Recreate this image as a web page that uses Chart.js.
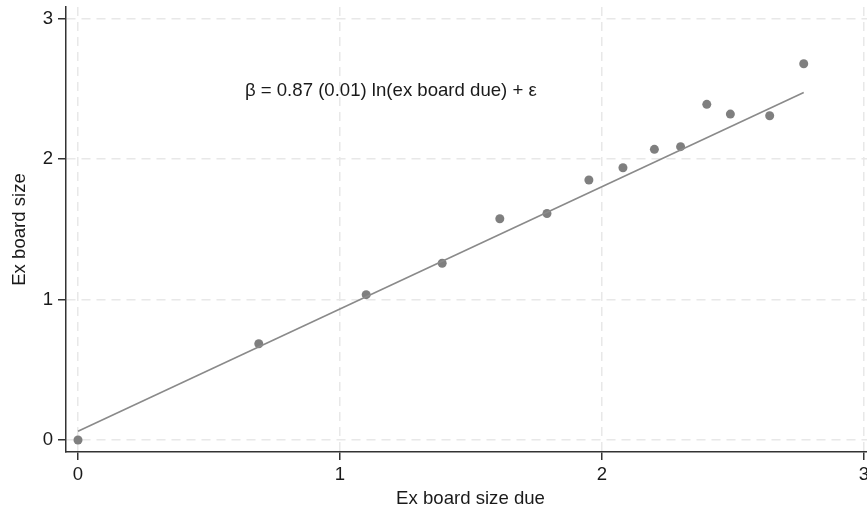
<!DOCTYPE html>
<html>
<head>
<meta charset="utf-8">
<script src="https://cdn.jsdelivr.net/npm/chart.js@4"></script>
<style>
	html, body { margin: 0; padding: 0; background: #fff; overflow: hidden; }
	#cadre { position: relative; width: 890px; height: 512px; }
</style>
</head>
<body>
<div id="cadre"><canvas id="graphique"></canvas></div>
<script>
// ln(ex board size due) and ln(ex board size), one point per group
const tailleDue = [0, 0.69, 1.10, 1.39, 1.61, 1.79, 1.95, 2.08, 2.20, 2.30, 2.40, 2.49, 2.64, 2.77];
const tailleBoard = [0, 0.685, 1.035, 1.258, 1.575, 1.612, 1.851, 1.938, 2.069, 2.088, 2.389, 2.320, 2.308, 2.678];

// fitted line
const beta = 0.87;
const constante = 0.063;

const ticksX = [0, 1, 2, 3];
const ticksY = [0, 1, 2, 3];

const texteBeta = "β = 0.87 (0.01) ln(ex board due) + ε";

const points = tailleDue.map((x, i) => ({x: x, y: tailleBoard[i]}));
const xMin = Math.min(...tailleDue);
const xMax = Math.max(...tailleDue);
const droite = [
	{x: xMin, y: constante + beta * xMin},
	{x: xMax, y: constante + beta * xMax},
];

const police = "'Liberation Sans', Arial, sans-serif";
const taille = 18.6;

// writes the regression equation inside the plot
const pluginTexte = {
	id: "texteBeta",
	afterDatasetsDraw(chart) {
		const ctx = chart.ctx;
		const px = chart.scales.x.getPixelForValue(0.637);
		const py = chart.scales.y.getPixelForValue(2.484);
		ctx.save();
		ctx.font = taille + "px " + police;
		ctx.fillStyle = "#1a1a1a";
		ctx.textAlign = "left";
		ctx.textBaseline = "middle";
		ctx.fillText(texteBeta, px, py);
		ctx.restore();
	}
};

const grille = {
	color: "#e8e8e8",
	lineWidth: 1.5,
	tickColor: "#333",
	tickLength: 8,
	tickWidth: 1.5,
};

const config = {
	type: "scatter",
	data: {
		datasets: [
			{
				type: "line",
				data: droite,
				borderColor: "#8a8a8a",
				borderWidth: 1.6,
				pointRadius: 0,
				fill: false,
			},
			{
				data: points,
				backgroundColor: "#7f7f7f",
				borderWidth: 0,
				pointRadius: 4.5,
			},
		],
	},
	options: {
		responsive: true,
		maintainAspectRatio: false,
		animation: false,
		layout: {padding: {top: 7, right: 15, left: 0, bottom: 0}},
		plugins: {legend: {display: false}, tooltip: {enabled: false}},
		scales: {
			x: {
				type: "linear",
				min: -0.0458,
				max: 3.042,
				afterBuildTicks: scale => { scale.ticks = ticksX.map(v => ({value: v})); },
				afterFit: scale => {
					scale.height = 60;
					scale.paddingLeft = 0;
					scale.paddingRight = 0;
				},
				grid: grille,
				border: {display: true, color: "#333", width: 1.5, dash: [9, 6]},
				ticks: {color: "#1a1a1a", padding: 4, maxRotation: 0, font: {size: taille, family: police}},
				title: {display: true, text: "Ex board size due", color: "#1a1a1a", padding: {top: 0, bottom: 2}, font: {size: taille, family: police}},
			},
			y: {
				type: "linear",
				min: -0.085,
				max: 3.082,
				afterBuildTicks: scale => { scale.ticks = ticksY.map(v => ({value: v})); },
				afterFit: scale => {
					scale.width = 66;
					scale.paddingTop = 0;
					scale.paddingBottom = 0;
				},
				grid: grille,
				border: {display: true, color: "#333", width: 1.5, dash: [9, 6]},
				ticks: {color: "#1a1a1a", padding: 5, font: {size: taille, family: police}},
				title: {display: true, text: "Ex board size", color: "#1a1a1a", padding: {top: 9, bottom: 0}, font: {size: taille, family: police}},
			},
		},
	},
	plugins: [pluginTexte],
};

const graphique = new Chart(document.querySelector("#graphique"), config);
</script>
</body>
</html>
